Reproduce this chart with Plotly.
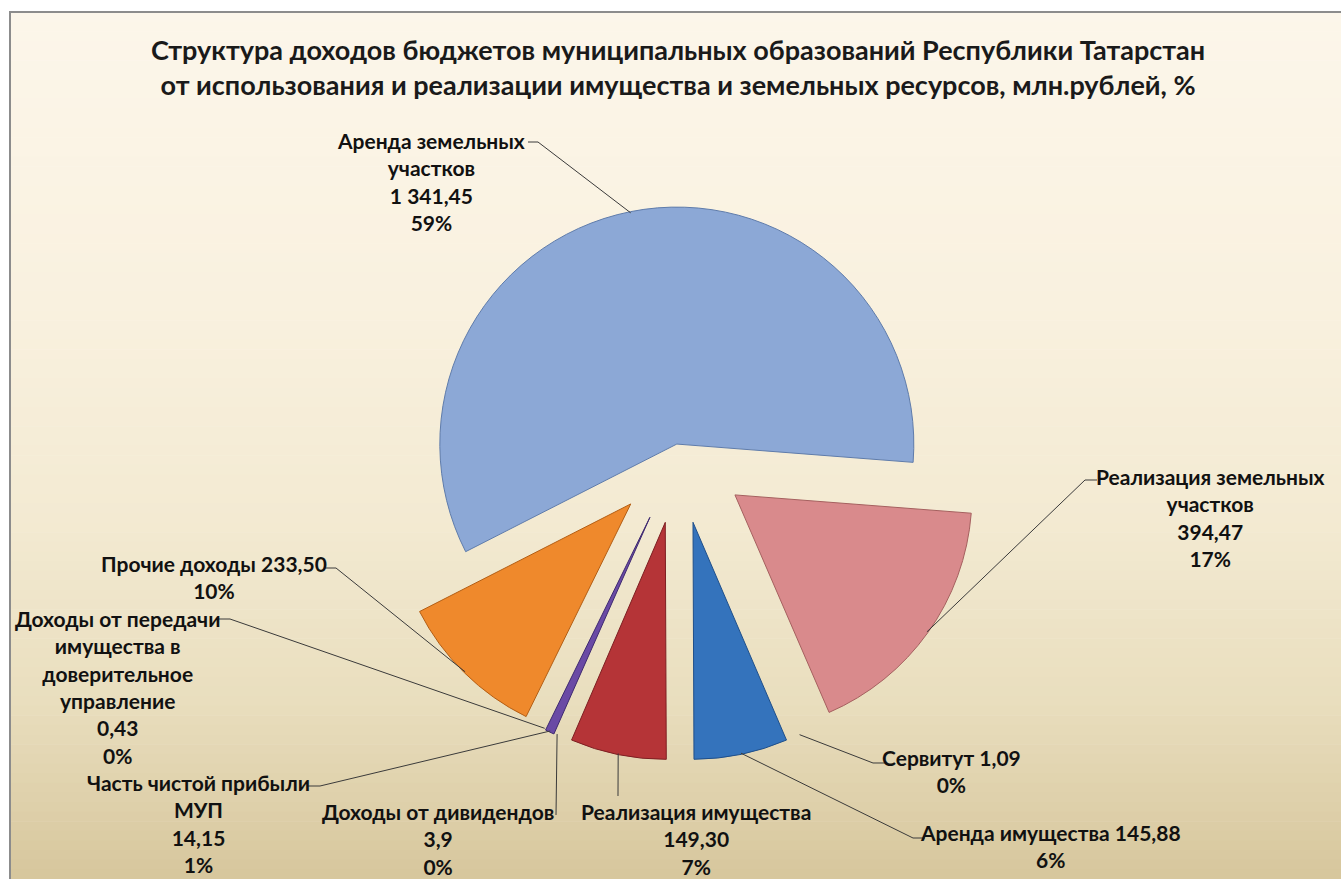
import math
import plotly.graph_objects as go

W, H = 1341, 879

# ---------------- data ----------------
labels = [
    "Аренда земельных участков",
    "Реализация земельных участков",
    "Сервитут",
    "Аренда имущества",
    "Реализация имущества",
    "Доходы от дивидендов",
    "Часть чистой прибыли МУП",
    "Доходы от передачи имущества в доверительное управление",
    "Прочие доходы",
]
values = [1341.45, 394.47, 1.09, 145.88, 149.30, 3.9, 14.15, 0.43, 233.50]
value_text = ["1 341,45", "394,47", "1,09", "145,88", "149,30", "3,9", "14,15", "0,43", "233,50"]
# how each label is broken into lines in the picture
label_lines = [
    ["Аренда земельных", "участков"],
    ["Реализация земельных", "участков"],
    ["Сервитут"],
    ["Аренда имущества"],
    ["Реализация имущества"],
    ["Доходы от дивидендов"],
    ["Часть чистой прибыли", "МУП"],
    ["Доходы от передачи", "имущества в", "доверительное", "управление"],
    ["Прочие доходы"],
]
value_on_same_line = [False, False, True, True, False, False, False, False, True]

title_lines = [
    "Структура доходов бюджетов муниципальных образований Республики Татарстан",
    "от использования и реализации имущества и земельных ресурсов, млн.рублей, %",
]

# ---------------- style ----------------
colors = ["#8CA8D6", "#D98A8C", "rgba(0,0,0,0)", "#3473BC", "#B53437",
          "rgba(0,0,0,0)", "#6A4AA5", "rgba(0,0,0,0)", "#EF892C"]
edge_colors = ["#5F7CAB", "#A5605F", "rgba(0,0,0,0)", "#1F4F8A", "#7E1F22",
               "rgba(0,0,0,0)", "#3F2A70", "rgba(0,0,0,0)", "#B35E14"]
edge_widths = [1, 1, 0, 1, 1, 0, 1, 0, 1]
pulls = [0.047, 0.29, 0.29, 0.29, 0.29, 0.29, 0.29, 0.29, 0.29]
start_angle = 243.0  # degrees clockwise from 12 o'clock

# pie placement (pixels)
pie_cx, pie_cy, pie_r = 679.0, 455.0, 237.0
half = pie_r * (1 + max(pulls))
dom_x = [(pie_cx - half) / W, (pie_cx + half) / W]
dom_y = [1 - (pie_cy + half) / H, 1 - (pie_cy - half) / H]

# label positions (pixels): centre of text block, leader line start, stub end
label_pos = [
    (431, 181), (1210, 517), (951, 771), (1050, 846), (696, 839),
    (438, 839), (198, 823), (117, 687), (214, 577),
]
leader_start = [
    ((528, 142), (538, 142)),
    ((1097, 480), (1085, 480)),
    ((886, 763), (873, 763)),
    ((925, 838), (913, 838)),
    ((618, 796), None),
    ((556, 815), None),
    ((308, 786), (320, 786)),
    ((219, 619), (230, 619)),
    ((325, 568), (336, 568)),
]

FONT = "Lato"

fig = go.Figure()

fig.add_trace(go.Pie(
    labels=labels,
    values=values,
    sort=False,
    direction="clockwise",
    rotation=start_angle - 360,
    pull=pulls,
    marker=dict(colors=colors, line=dict(color=edge_colors, width=edge_widths)),
    textinfo="none",
    hoverinfo="label+value+percent",
    showlegend=False,
    domain=dict(x=dom_x, y=dom_y),
))

# ---------------- background gradient + frame ----------------
shapes = []
stops = [(12, (252, 246, 234)), (300, (249, 241, 223)), (520, (243, 234, 210)),
         (700, (233, 222, 190)), (879, (214, 198, 156))]


def col_at(y):
    for (y0, c0), (y1, c1) in zip(stops[:-1], stops[1:]):
        if y0 <= y <= y1:
            t = (y - y0) / (y1 - y0)
            return tuple(int(round(a + (b - a) * t)) for a, b in zip(c0, c1))
    return stops[-1][1]


n_bands = 90
top, bot = 12, H
for i in range(n_bands):
    y0 = top + (bot - top) * i / n_bands
    y1 = top + (bot - top) * (i + 1) / n_bands
    c = col_at((y0 + y1) / 2)
    shapes.append(dict(type="rect", xref="paper", yref="paper",
                       x0=10 / W, x1=1, y0=1 - (y1 + 0.6) / H, y1=1 - y0 / H,
                       fillcolor="rgb(%d,%d,%d)" % c, line=dict(width=0), layer="below"))
shapes.append(dict(type="line", xref="paper", yref="paper", x0=10 / W, x1=10 / W,
                   y0=0, y1=1 - 11 / H, line=dict(color="#8C8C8C", width=2), layer="below"))
shapes.append(dict(type="line", xref="paper", yref="paper", x0=9 / W, x1=1,
                   y0=1 - 12 / H, y1=1 - 12 / H, line=dict(color="#8C8C8C", width=2), layer="below"))

# ---------------- leader lines (ends computed from slice geometry) ----------------
total = sum(values)
cum = 0.0
tips = []
for v, p in zip(values, pulls):
    a0 = start_angle + cum / total * 360
    a1 = a0 + v / total * 360
    cum += v
    mid = math.radians((a0 + a1) / 2)
    dx, dy = math.sin(mid), -math.cos(mid)
    dist = pie_r * p + pie_r * 0.995
    tips.append((pie_cx + dist * dx, pie_cy + dist * dy))


def P(x, y):
    return "%.5f %.5f" % (x / W, 1 - y / H)


for (st, stub), tip in zip(leader_start, tips):
    path = "M " + P(*st)
    if stub is not None:
        path += " L " + P(*stub)
    path += " L " + P(*tip)
    shapes.append(dict(type="path", xref="paper", yref="paper", path=path,
                       line=dict(color="#3A3A3A", width=1)))

# ---------------- annotations ----------------
annotations = []
annotations.append(dict(
    text="<br>".join(title_lines), x=678 / W, y=1 - 67 / H, xref="paper", yref="paper",
    xanchor="center", yanchor="middle", showarrow=False,
    font=dict(family=FONT, size=27, color="#1A1A1A", weight="bold"),
))

pct = [round(v / total * 100) for v in values]
for i in range(len(values)):
    lines = list(label_lines[i])
    if value_on_same_line[i]:
        lines[-1] = lines[-1] + " " + value_text[i]
    else:
        lines.append(value_text[i])
    lines.append("%d%%" % pct[i])
    x, y = label_pos[i]
    annotations.append(dict(
        text="<br>".join(lines), x=x / W, y=1 - y / H, xref="paper", yref="paper",
        xanchor="center", yanchor="middle", align="center", showarrow=False,
        font=dict(family=FONT, size=21, color="#111111", weight="bold"),
    ))

fig.update_layout(
    width=W, height=H,
    margin=dict(l=0, r=0, t=0, b=0),
    paper_bgcolor="white",
    plot_bgcolor="white",
    shapes=shapes,
    annotations=annotations,
    showlegend=False,
)

fig.write_html("out.html", config={"displayModeBar": False},
               post_script="document.body.style.margin='0';")
